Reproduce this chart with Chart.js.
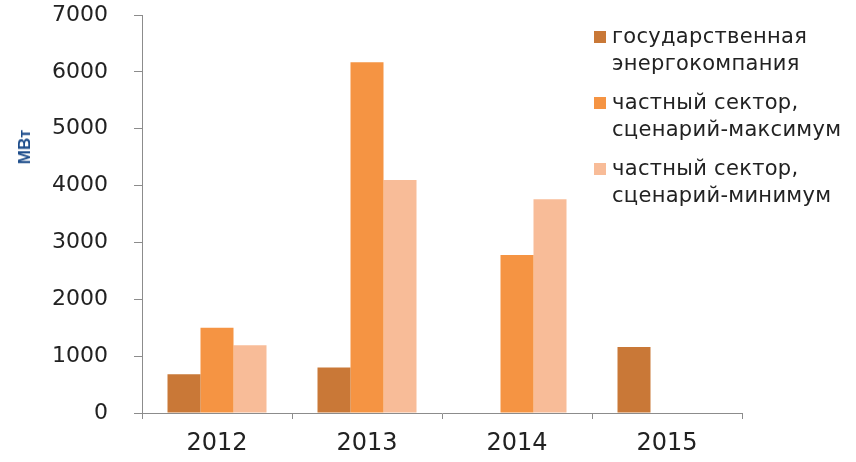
<!DOCTYPE html>
<html>
<head>
<meta charset="utf-8">
<script src="https://cdn.jsdelivr.net/npm/chart.js@4"></script>
<style>
    body { margin: 0; background: #fff; font-family: "DejaVu Sans", sans-serif; }
    .wrap { position: relative; width: 856px; height: 462px; }
    .legend { position: absolute; left: 594px; top: 23px; color: #222; font-size: 21px; line-height: 27px; letter-spacing: 0.3px; }
    .legend-item { position: relative; padding-left: 18px; margin-bottom: 12px; white-space: nowrap; }
    .legend-item .box { position: absolute; left: 0; top: 8px; width: 12px; height: 12px; }
    .y-title { position: absolute; left: 25px; top: 147px; transform: translate(-50%, -50%) rotate(-90deg);
               font: bold 17px "Liberation Sans", Arial, sans-serif; color: #1f4e8c; }
</style>
</head>
<body>
<div class="wrap">
    <canvas id="energyChart" width="856" height="462"></canvas>
    <div class="legend" id="legend"></div>
    <div class="y-title">МВт</div>
</div>
<script>
// Data
const years = ['2012', '2013', '2014', '2015'];
const stateCompany = [680, 800, null, 1160];
const privateMax = [1500, 6170, 2780, null];
const privateMin = [1190, 4100, 3760, null];

const seriesNames = [
    ['государственная', 'энергокомпания'],
    ['частный сектор,', 'сценарий-максимум'],
    ['частный сектор,', 'сценарий-минимум']
];
const colors = ['#c97837', '#f59443', '#f8bc98'];

// HTML legend (multi-line labels)
const legendEl = document.getElementById('legend');
seriesNames.forEach((lines, i) => {
    const item = document.createElement('div');
    item.className = 'legend-item';
    item.innerHTML = `<span class="box" style="background:${colors[i]}"></span>${lines.join('<br>')}`;
    legendEl.appendChild(item);
});

const ctx = document.getElementById('energyChart');
new Chart(ctx, {
    type: 'bar',
    data: {
        labels: years,
        datasets: [
            { label: seriesNames[0].join(' '), data: stateCompany, backgroundColor: colors[0] },
            { label: seriesNames[1].join(' '), data: privateMax, backgroundColor: colors[1] },
            { label: seriesNames[2].join(' '), data: privateMin, backgroundColor: colors[2] }
        ]
    },
    options: {
        responsive: false,
        animation: false,
        categoryPercentage: 0.66,
        barPercentage: 1,
        layout: {
            padding: { top: 0, right: 114, bottom: 0, left: 0 }
        },
        plugins: {
            legend: { display: false },
            tooltip: { enabled: false }
        },
        scales: {
            y: {
                min: 0,
                max: 7000,
                afterFit: (scale) => {
                    scale.width = 142;
                    // tick padding is added to top/bottom padding, undo that
                    scale.paddingTop = 15;
                    scale.paddingBottom = 13;
                },
                ticks: {
                    stepSize: 1000,
                    padding: 26,
                    color: '#222',
                    font: { family: 'DejaVu Sans', size: 22 },
                    callback: (v) => String(v)
                },
                grid: { drawOnChartArea: false, tickLength: 8, color: '#8c8c8c' },
                border: { color: '#8c8c8c' }
            },
            x: {
                afterFit: (scale) => { scale.height = 49; },
                ticks: {
                    padding: 10,
                    color: '#222',
                    font: { family: 'DejaVu Sans', size: 24 }
                },
                grid: { drawOnChartArea: false, offset: true, tickLength: 6, color: '#8c8c8c' },
                border: { color: '#8c8c8c' }
            }
        }
    }
});
</script>
</body>
</html>
